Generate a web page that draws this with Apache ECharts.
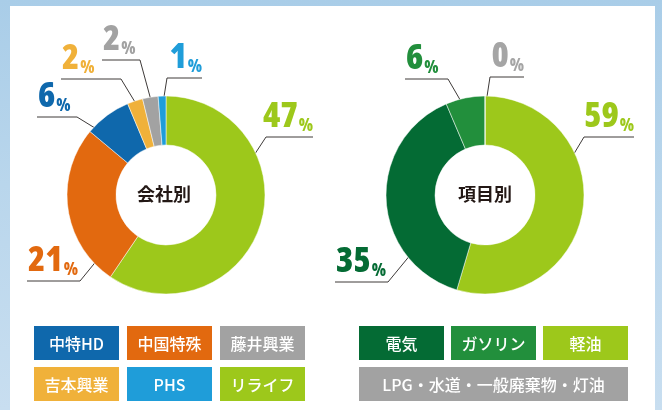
<!DOCTYPE html>
<html>
<head>
<meta charset="utf-8">
<script src="https://cdn.jsdelivr.net/npm/echarts@6/dist/echarts.min.js"></script>
<style>
html,body{margin:0;padding:0;}
body{width:662px;height:410px;overflow:hidden;background:linear-gradient(180deg,#a9cde8 0%,#b9d6ec 45%,#c8def0 100%);}
#chart{width:662px;height:410px;}
</style>
</head>
<body>
<div id="chart"></div>
<script>
// ---- data ----
const leftTitle = '会社別';
const leftNames = ['リライフ', '中国特殊', '中特HD', '吉本興業', '藤井興業', 'PHS'];
const leftValues = [47, 21, 6, 2, 2, 1];
const rightTitle = '項目別';
const rightNames = ['軽油', '電気', 'ガソリン', 'LPG・水道・一般廃棄物・灯油'];
const rightShares = [54.6, 39, 6.4, 0];   // arc sizes as drawn
const rightPct = [59, 35, 6, 0];          // printed percentages
const leftLegendRows = [['中特HD', '中国特殊', '藤井興業'], ['吉本興業', 'PHS', 'リライフ']];
const rightLegendRows = [['電気', 'ガソリン', '軽油'], ['LPG・水道・一般廃棄物・灯油']];

// ---- styles / layout ----
const colorMap = {
  'リライフ': '#9dc81b', '中国特殊': '#e2690f', '中特HD': '#0f68ac',
  '吉本興業': '#f0b13a', '藤井興業': '#a2a2a2', 'PHS': '#1f9dd9',
  '軽油': '#9dc81b', '電気': '#046b34', 'ガソリン': '#228f3c',
  'LPG・水道・一般廃棄物・灯油': '#a2a2a2'
};
const labelColorMap = Object.assign({}, colorMap, {'LPG・水道・一般廃棄物・灯油': '#a5a5a5'});
const leftCenter = [166, 195];
const rightCenter = [485, 195];
const radius = [50, 99];
// leader lines: [start, elbow, end] offsets from pie centre
const leftLeaders = [
  [[77, -23], [100, -58], [147, -58]],
  [[-59, 53], [-86, 86], [-139, 86]],
  [[-63, -62], [-89, -78], [-129, -78]],
  [[-28, -88], [-45, -116], [-105, -116]],
  [[-14, -91], [-26, -135], [-64, -135]],
  [[-3, -92], [1, -117], [36, -117]]
];
const rightLeaders = [
  [[78, -23], [99, -58], [149, -58]],
  [[-69, 53], [-97, 87], [-150, 87]],
  [[-19, -85], [-37, -116], [-80, -116]],
  [[1, -92], [5, -118], [39, -118]]
];
const numFont = "'Open Sans','Liberation Sans',sans-serif";
const jpFont = "'Noto Sans CJK JP','Noto Sans',sans-serif";

function makeLayout(center, leaders) {
  return function (p) {
    const L = leaders[p.dataIndex];
    const pts = L.map(q => [center[0] + q[0], center[1] + q[1]]);
    const right = L[2][0] > L[1][0];
    return {
      x: right ? pts[2][0] : pts[2][0] + 1,
      y: pts[2][1] - 2,
      align: right ? 'right' : 'left',
      verticalAlign: 'bottom',
      labelLinePoints: pts
    };
  };
}

function pieSeries(names, values, pcts, center, leaders) {
  return {
    type: 'pie',
    center: center,
    radius: radius,
    startAngle: 90,
    clockwise: true,
    avoidLabelOverlap: false,
    animation: false,
    silent: true,
    itemStyle: {borderColor: '#ffffff', borderWidth: 0.5},
    label: {
      show: true,
      position: 'outside',
      formatter: p => '{n|' + pcts[p.dataIndex] + '}{p|%}',
      rich: {
        n: {fontSize: 35, fontWeight: '800 condensed', fontFamily: numFont, lineHeight: 34, verticalAlign: 'bottom'},
        p: {fontSize: 17, fontWeight: '800 condensed', fontFamily: numFont, lineHeight: 34, verticalAlign: 'bottom', padding: [0, 0, 0, 1]}
      }
    },
    labelLine: {show: true, lineStyle: {color: '#3e3a39', width: 1}},
    labelLayout: makeLayout(center, leaders),
    data: names.map((n, i) => ({
      name: n, value: values[i],
      itemStyle: {color: colorMap[n]},
      label: {color: labelColorMap[n], rich: {n: {color: labelColorMap[n]}, p: {color: labelColorMap[n]}}}
    }))
  };
}

function legendGraphics(rows, x0, y0, w, h, gapX, gapY) {
  const out = [];
  rows.forEach((row, r) => {
    const full = row.length === 1;
    row.forEach((name, c) => {
      const bw = full ? w * 3 + gapX * 2 : w;
      const x = x0 + c * (w + gapX);
      const y = y0 + r * (h + gapY);
      out.push({
        type: 'rect', shape: {x: x, y: y, width: bw, height: h},
        style: {fill: colorMap[name]}, z: 5
      });
      out.push({
        type: 'text', x: x + bw / 2, y: y + h / 2 + 1, z: 6,
        style: {text: name, fill: '#ffffff', font: '500 16px ' + jpFont, align: 'center', verticalAlign: 'middle'}
      });
    });
  });
  return out;
}

const chart = echarts.init(document.getElementById('chart'), null, {renderer: 'canvas'});
chart.setOption({
  backgroundColor: 'transparent',
  animation: false,
  graphic: [
    {type: 'rect', shape: {x: 10, y: 6, width: 645, height: 420}, style: {fill: '#ffffff'}, z: -10},
    {type: 'text', x: leftCenter[0] - 2, y: leftCenter[1] - 1, z: 6,
      style: {text: leftTitle, fill: '#231815', font: 'bold 18px ' + jpFont, align: 'center', verticalAlign: 'middle'}},
    {type: 'text', x: rightCenter[0], y: rightCenter[1] - 1, z: 6,
      style: {text: rightTitle, fill: '#231815', font: 'bold 18px ' + jpFont, align: 'center', verticalAlign: 'middle'}}
  ].concat(legendGraphics(leftLegendRows, 34, 326, 85, 34, 8, 7))
   .concat(legendGraphics(rightLegendRows, 359, 326, 85, 34, 7, 7)),
  series: [
    pieSeries(leftNames, leftValues, leftValues, leftCenter, leftLeaders),
    pieSeries(rightNames, rightShares, rightPct, rightCenter, rightLeaders)
  ]
});
</script>
</body>
</html>
